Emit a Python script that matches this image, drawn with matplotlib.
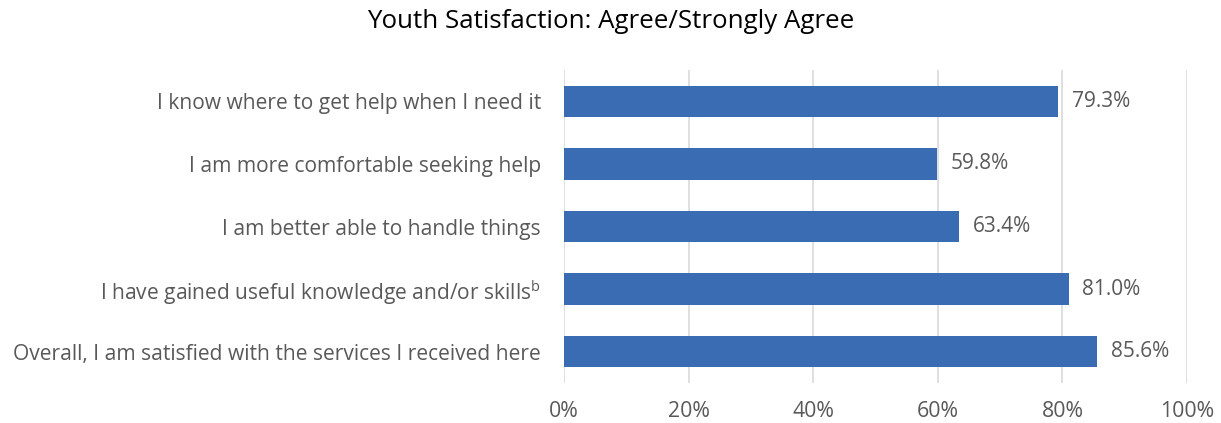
import matplotlib
matplotlib.use("Agg")
import matplotlib.pyplot as plt
from matplotlib.ticker import FuncFormatter

categories = [
    "I know where to get help when I need it",
    "I am more comfortable seeking help",
    "I am better able to handle things",
    "I have gained useful knowledge and/or skills$^{\\mathregular{b}}$",
    "Overall, I am satisfied with the services I received here",
]
values = [79.3, 59.8, 63.4, 81.0, 85.6]
xticks = [0, 20, 40, 60, 80, 100]

plt.rcParams['font.family'] = ['Open Sans', 'DejaVu Sans']

fig = plt.figure(figsize=(12.21, 4.23), dpi=100)
ax = fig.add_axes([564/1221, 1-383/423, (1187-564)/1221, (383-70)/423])

ypos = list(range(len(categories)))[::-1]
ax.barh(ypos, values, height=0.5, color="#3A6CB4", zorder=3)
for y, v in zip(ypos, values):
    ax.text(v + 2.2, y, f"{v:.1f}%", va="center", ha="left", fontsize=15, color="#595959")

ax.set_xlim(0, 100)
ax.set_ylim(-0.5, len(categories) - 0.5)
ax.set_xticks(xticks)
ax.xaxis.set_major_formatter(FuncFormatter(lambda x, p: f"{x:.0f}%"))
ax.set_yticks(ypos)
ax.set_yticklabels(categories, fontsize=15.1)
ax.grid(axis="x", color="#D9D9D9", linewidth=1.2, zorder=0)
for s in ax.spines.values():
    s.set_visible(False)
ax.tick_params(axis="both", length=0, labelsize=15.3, labelcolor="#595959")
ax.tick_params(axis="y", pad=16.5, labelsize=15.1)
ax.tick_params(axis="x", pad=13)

fig.text(0.5, 1-21/423, "Youth Satisfaction: Agree/Strongly Agree", ha="center", va="center", fontsize=18.6, color="black")

fig.savefig("out.png", dpi=100)
